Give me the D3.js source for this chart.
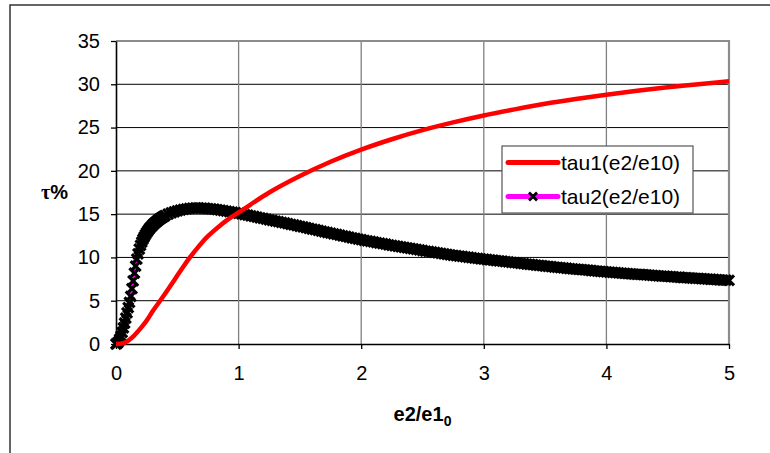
<!DOCTYPE html>
<html><head><meta charset="utf-8">
<script src="https://cdn.jsdelivr.net/npm/d3@7"></script>
<style>
body{margin:0;background:#fff;}
svg{display:block;}
text{font-family:"Liberation Sans",Arial,sans-serif;}
</style></head>
<body>
<svg id="chart" width="770" height="453"></svg>
<script>
const xTicks = [0,1,2,3,4,5];
const yTicks = [0,5,10,15,20,25,30,35];
const seriesNames = ["tau1(e2/e10)", "tau2(e2/e10)"];

const tau1X = [0,0.05,0.10,0.15,0.20,0.25,0.30,0.35,0.40,0.45,0.50,0.55,0.60,0.65,0.70,0.75,0.80,0.85,0.90,0.95,1.00,
  1.25,1.50,1.75,2.00,2.25,2.50,2.75,3.00,3.25,3.50,3.75,4.00,4.25,4.50,4.75,5.00];
const tau1Y = [0,0.05,0.4,1.0,1.8,2.7,3.8,4.8,5.8,6.85,7.9,8.95,9.95,10.85,11.7,12.45,13.1,13.7,14.25,14.75,15.2,
  17.5,19.4,21.05,22.45,23.65,24.7,25.6,26.4,27.1,27.75,28.3,28.8,29.25,29.65,30.0,30.35];

const tau2X = [0,0.01,0.02,0.03,0.04,0.05,0.06,0.07,0.08,0.09,0.10,0.11,0.12,0.13,0.14,0.15,0.16,0.17,0.18,0.19,
  0.20,0.21,0.22,0.23,0.24,0.25,0.26,0.27,0.28,0.29,0.30,0.31,0.32,0.33,0.34,0.35,0.36,0.37,0.38,0.39,
  0.400,0.425,0.450,0.475,0.500,0.525,0.550,0.575,0.600,0.625,0.650,0.675,0.700,0.725,0.750,0.775,0.800,0.825,0.850,0.875,0.900,0.925,0.950,0.975,
  1.000,1.025,1.050,1.075,1.100,1.125,1.150,1.175,1.200,1.225,1.250,1.275,1.300,1.325,1.350,1.375,1.400,1.425,1.450,1.475,
  1.500,1.525,1.550,1.575,1.600,1.625,1.650,1.675,1.700,1.725,1.750,1.775,1.800,1.825,1.850,1.875,1.900,1.925,1.950,1.975,
  2.000,2.025,2.050,2.075,2.100,2.125,2.150,2.175,2.200,2.225,2.250,2.275,2.300,2.325,2.350,2.375,2.400,2.425,2.450,2.475,
  2.500,2.525,2.550,2.575,2.600,2.625,2.650,2.675,2.700,2.725,2.750,2.775,2.800,2.825,2.850,2.875,2.900,2.925,2.950,2.975,
  3.000,3.025,3.050,3.075,3.100,3.125,3.150,3.175,3.200,3.225,3.250,3.275,3.300,3.325,3.350,3.375,3.400,3.425,3.450,3.475,
  3.500,3.525,3.550,3.575,3.600,3.625,3.650,3.675,3.700,3.725,3.750,3.775,3.800,3.825,3.850,3.875,3.900,3.925,3.950,3.975,
  4.000,4.025,4.050,4.075,4.100,4.125,4.150,4.175,4.200,4.225,4.250,4.275,4.300,4.325,4.350,4.375,4.400,4.425,4.450,4.475,
  4.500,4.525,4.550,4.575,4.600,4.625,4.650,4.675,4.700,4.725,4.750,4.775,4.800,4.825,4.850,4.875,4.900,4.925,4.950,4.975,5.000];
const tau2Y = [0,0.07,0.25,0.55,0.9,1.35,1.85,2.4,3.0,3.6,4.2,4.8,5.5,6.4,7.3,8.2,9.0,9.8,10.4,10.95,
  11.4,11.78,12.10,12.38,12.63,12.86,13.07,13.26,13.44,13.60,13.75,13.89,14.02,14.14,14.26,14.37,14.47,14.57,14.66,14.75,
  14.84,15.00,15.14,15.27,15.38,15.47,15.55,15.61,15.66,15.69,15.71,15.71,15.70,15.68,15.65,15.61,15.57,15.52,15.47,15.41,15.35,15.29,15.23,15.17,
  15.10,15.03,14.95,14.88,14.80,14.73,14.65,14.58,14.50,14.43,14.35,14.28,14.20,14.13,14.05,13.98,13.90,13.83,13.75,13.68,
  13.60,13.52,13.44,13.36,13.28,13.20,13.12,13.04,12.96,12.88,12.80,12.72,12.65,12.57,12.50,12.42,12.35,12.27,12.20,12.12,
  12.05,11.98,11.92,11.85,11.79,11.72,11.66,11.59,11.53,11.46,11.40,11.34,11.28,11.22,11.16,11.10,11.04,10.98,10.92,10.86,
  10.80,10.74,10.69,10.63,10.58,10.52,10.47,10.41,10.36,10.30,10.25,10.20,10.16,10.11,10.07,10.02,9.98,9.93,9.89,9.84,
  9.80,9.76,9.72,9.68,9.64,9.60,9.56,9.52,9.48,9.44,9.40,9.36,9.32,9.28,9.24,9.20,9.16,9.12,9.08,9.04,
  9.00,8.96,8.93,8.89,8.86,8.82,8.79,8.75,8.72,8.68,8.65,8.62,8.59,8.55,8.52,8.49,8.46,8.42,8.39,8.36,
  8.33,8.30,8.27,8.25,8.22,8.19,8.16,8.14,8.11,8.08,8.05,8.03,8.00,7.98,7.95,7.93,7.90,7.88,7.85,7.83,
  7.80,7.78,7.75,7.73,7.71,7.68,7.66,7.64,7.62,7.59,7.57,7.55,7.53,7.50,7.48,7.46,7.44,7.41,7.39,7.37,7.35];

const svg = d3.select("#chart");
const x = d3.scaleLinear().domain([0,5]).range([116,729]);
const y = d3.scaleLinear().domain([0,35]).range([344,41]);

// outer chart border
svg.append("rect").attr("x",10).attr("y",5).attr("width",800).attr("height",500)
  .attr("fill","#fff").attr("stroke","#333").attr("stroke-width",1.5);

// horizontal gridlines
svg.append("g").selectAll("line").data(yTicks.filter(v=>v>0 && v<35)).join("line")
  .attr("x1",x(0)).attr("x2",x(5)).attr("y1",d=>y(d)).attr("y2",d=>y(d))
  .attr("stroke","#000").attr("stroke-width",1);
// vertical gridlines
svg.append("g").selectAll("line").data(xTicks.filter(v=>v>0 && v<5)).join("line")
  .attr("x1",d=>x(d)).attr("x2",d=>x(d)).attr("y1",y(0)).attr("y2",y(35))
  .attr("stroke","#808080").attr("stroke-width",1.3);
// plot-area top and right border
svg.append("path").attr("d",`M${x(0)},${y(35)}H${x(5)}V${y(0)}`)
  .attr("fill","none").attr("stroke","#8c8c8c").attr("stroke-width",2.2);

// axes
const yAxis = svg.append("g").attr("transform",`translate(${x(0)},0)`)
  .call(d3.axisLeft(y).tickValues(yTicks).tickSize(5).tickPadding(11).tickSizeOuter(0));
const xAxis = svg.append("g").attr("transform",`translate(0,${y(0)})`)
  .call(d3.axisBottom(x).tickValues(xTicks).tickSize(5).tickPadding(17).tickSizeOuter(0).tickFormat(d3.format("d")));
[yAxis,xAxis].forEach(g=>{
  g.select(".domain").attr("stroke","#000").attr("stroke-width",1.6);
  g.selectAll(".tick line").attr("stroke","#000").attr("stroke-width",1.3);
  g.selectAll(".tick text").attr("fill","#000").style("font-size","20px")
    .style("font-family","'Liberation Sans',Arial,sans-serif");
});

// tau2 series: magenta line with black x markers
const pts2 = tau2X.map((v,i)=>[v,tau2Y[i]]);
const pts1 = tau1X.map((v,i)=>[v,tau1Y[i]]);
const line = d3.line().x(d=>x(d[0])).y(d=>y(d[1]));
svg.append("path").datum(pts2).attr("d",line).attr("fill","none")
  .attr("stroke","#ff00ff").attr("stroke-width",4);
const mk = "M-5,-5L5,5M-5,5L5,-5";
svg.append("g").selectAll("path").data(pts2).join("path")
  .attr("transform",d=>`translate(${x(d[0])},${y(d[1])})`)
  .attr("d",mk).attr("stroke","#000").attr("stroke-width",3.2).attr("fill","none");

// tau1 series: red line
svg.append("path").datum(pts1).attr("d",line.curve(d3.curveMonotoneX)).attr("fill","none")
  .attr("stroke","#ff0000").attr("stroke-width",4.5);

// legend
const lg = svg.append("g");
lg.append("rect").attr("x",502).attr("y",146).attr("width",191).attr("height",67)
  .attr("fill","#fff").attr("stroke","#555").attr("stroke-width",1.2);
const lgY = [162.5,196.5];
const lgColors = ["#ff0000","#ff00ff"];
const mkL = "M-4,-4L4,4M-4,4L4,-4";
seriesNames.forEach((n,i)=>{
  lg.append("line").attr("x1",508).attr("x2",558).attr("y1",lgY[i]).attr("y2",lgY[i])
    .attr("stroke",lgColors[i]).attr("stroke-width",5).attr("stroke-linecap","round");
  if(i===1){
    lg.append("path").attr("transform",`translate(533,${lgY[i]})`).attr("d",mkL)
      .attr("stroke","#000").attr("stroke-width",2.8);
  }
  lg.append("text").attr("x",561).attr("y",lgY[i]).attr("dy","0.36em")
    .style("font-size","21px").attr("fill","#000").text(n);
});

// axis titles
const xt = svg.append("text").attr("x",(x(0)+x(5))/2).attr("y",421).attr("text-anchor","middle")
  .style("font-size","20px").style("font-weight","bold").attr("fill","#000");
xt.append("tspan").text("e2/e1");
xt.append("tspan").attr("dy",5).style("font-size","14px").text("0");

const yt = svg.append("text").attr("x",41).attr("y",199)
  .style("font-size","20px").style("font-weight","bold").attr("fill","#000");
yt.append("tspan").style("font-family","'Liberation Serif','Times New Roman',serif").text("τ");
yt.append("tspan").text("%");
</script>
</body></html>
